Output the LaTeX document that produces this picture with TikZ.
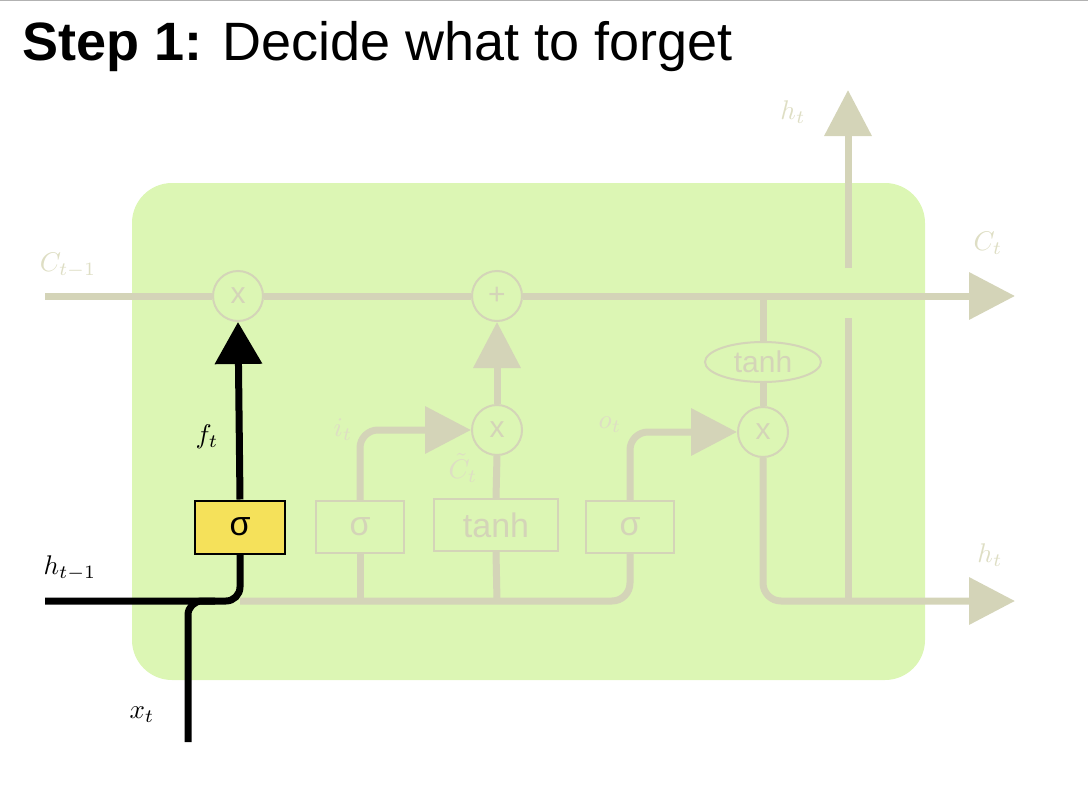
\documentclass[tikz,border=0pt]{standalone}
\usepackage{fontspec}
\setmainfont{Liberation Sans}
\usetikzlibrary{arrows.meta,shapes.geometric}
\definecolor{cellg}{RGB}{220,246,180}
\definecolor{fade}{RGB}{212,212,184}
\definecolor{fadet}{RGB}{222,222,196}
\definecolor{sigy}{RGB}{245,225,90}
\newcommand{\mlab}[1]{\scalebox{2.7}{$#1$}}
\begin{document}
\begin{tikzpicture}[x=1pt,y=-1pt,
 fl/.style={draw=fade,line width=7pt,rounded corners=18pt},
 bl/.style={draw=black,line width=7pt,rounded corners=14pt},
 tip/.style={-{Triangle[length=46pt,width=46pt]}},
 op/.style={circle,draw=fade,line width=2pt,minimum size=50pt,inner sep=0pt,text=fade,font=\fontsize{30}{30}\selectfont},
 gb/.style={rectangle,draw=fade,line width=2pt,minimum height=52pt,text=fade,font=\fontsize{34}{34}\selectfont,inner sep=2pt},
 ml/.style={inner sep=1pt},
 fm/.style={ml,text=fadet}]
\useasboundingbox (0,0) rectangle (1088,790);
\draw[gray!60,line width=1pt] (0,0.5)--(1088,0.5);
\node[anchor=base west,font=\fontsize{54}{54}\selectfont,inner sep=0pt] (title) at (22,60) {\textbf{Step 1:} Decide what to forget};
\node[draw=none,fill=cellg,rounded corners=40pt,minimum width=793pt,minimum height=497pt] (cell) at (528.5,431.5) {};
% nodes
\node[op] (m1) at (238,296) {x};
\node[op] (p1) at (497,296) {+};
\node[op] (m2) at (497,430) {x};
\node[op] (m3) at (763,432) {x};
\node[ellipse,draw=fade,line width=2pt,minimum width=116pt,minimum height=40pt,text=fade,font=\fontsize{30}{30}\selectfont,inner sep=0pt] (th2) at (763,362) {tanh};
\node[gb,minimum width=88pt] (s2) at (360,527) {σ};
\node[gb,minimum width=124pt] (t1) at (496,525) {tanh};
\node[gb,minimum width=88pt] (s3) at (630,527) {σ};
\coordinate (cin) at (45,296);
\coordinate (cout) at (1015,296);
\coordinate (hout) at (1015,601);
\coordinate (htop) at (848,90);
\coordinate (hgap1) at (848,318);
\coordinate (hgap2) at (848,268);
% faded connectors
\draw[fl] (cin)--(m1.west);
\draw[fl] (m1.east)--(p1.west);
\draw[fl,tip] (p1.east)--(cout);
\draw[fl] (240,601)--(630,601)--(s3.south);
\draw[fl] (360,601)--(s2.south);
\draw[fl] (497,601)--(t1.south);
\draw[fl,tip] (s2.north)--(360,430)--(m2.west);
\draw[fl,tip] (s3.north)--(630,432)--(m3.west);
\draw[fl] (t1.north)--(m2.south);
\draw[fl,tip] (m2.north)--(p1.south);
\draw[fl] (763,296)--(th2.north);
\draw[fl] (th2.south)--(m3.north);
\draw[fl,tip] (m3.south)--(763,601)--(hout);
\draw[fl] (848,601)--(hgap1);
\draw[fl,tip] (hgap2)--(htop);
% active path
\node[rectangle,draw=black,line width=2pt,fill=sigy,minimum width=90pt,minimum height=53pt,font=\fontsize{34}{34}\selectfont] (s1) at (240,527) {σ};
\draw[bl] (45,601)--(240,601)--(s1.south);
\draw[bl] (188,742)--(188,601)--(215,601);
\draw[line width=7pt,-{Triangle[length=42pt,width=46pt]}] (s1.north)--(m1.south);
% labels
\node[ml] (lft) at (207,437) {\mlab{f_t}};
\node[ml] (lht1) at (70,568) {\mlab{h_{t-1}}};
\node[ml] (lxt) at (142,715) {\mlab{x_t}};
\node[fm] (lct1) at (68,265) {\mlab{C_{t-1}}};
\node[fm] (lct) at (988,243) {\mlab{C_t}};
\node[fm] (lht) at (793,112) {\mlab{h_t}};
\node[fm] (lht2) at (990,555) {\mlab{h_t}};
\node[fm] (lit) at (343,430) {\mlab{i_t}};
\node[fm] (lot) at (610,425) {\mlab{o_t}};
\node[fm] (lctt) at (463,468) {\mlab{\tilde{C}_t}};
\end{tikzpicture}
\end{document}
